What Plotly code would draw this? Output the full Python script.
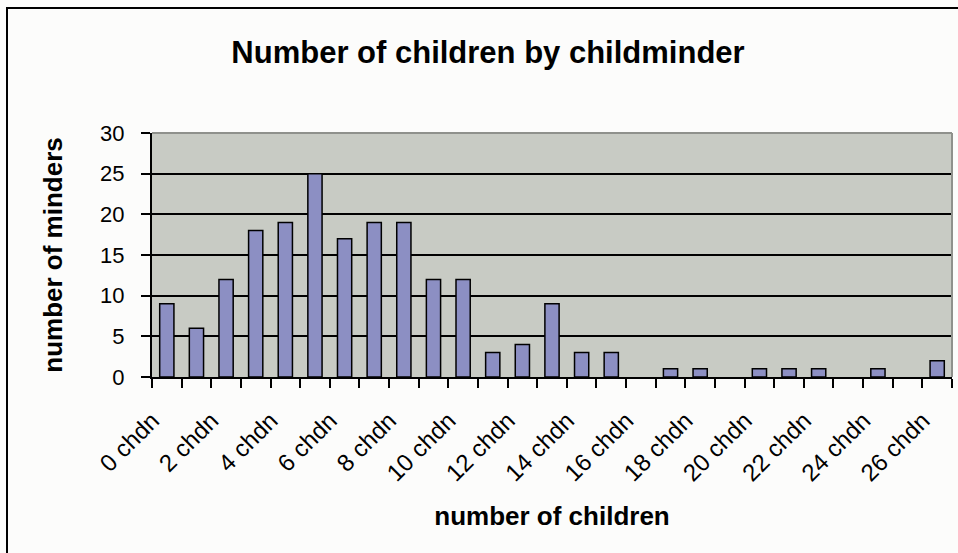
import plotly.graph_objects as go

# Number of children cared for (0..26) and how many childminders have that many
children = list(range(27))
minders = [9, 6, 12, 18, 19, 25, 17, 19, 19, 12, 12, 3, 4, 9, 3, 3, 0, 1, 1, 0, 1, 1, 1, 0, 1, 0, 2]
tick_positions = children[::2]
tick_labels = [f"{n} chdn" for n in tick_positions]
y_ticks = [0, 5, 10, 15, 20, 25, 30]

FONT = "Liberation Sans, Arial, sans-serif"
BAR_COLOR = "#8c8fc3"
PLOT_BG = "#c8cbc4"
PAPER_BG = "#fcfcfb"

# Rotated labels end a little to the left of each category centre
LABEL_SHIFT = -0.49

fig = go.Figure(
    go.Bar(
        x=children,
        y=minders,
        width=0.48,
        marker=dict(
            color=BAR_COLOR,
            line=dict(color="black", width=[1.5 if v > 0 else 0 for v in minders]),
        ),
    )
)

fig.update_layout(
    width=958,
    height=553,
    margin=dict(l=152, r=6, t=133, b=176),
    paper_bgcolor=PAPER_BG,
    plot_bgcolor=PLOT_BG,
    showlegend=False,
    font=dict(family=FONT, color="black"),
    title=dict(
        text="<b>Number of children by childminder</b>",
        font=dict(family=FONT, size=31, color="black"),
        x=488 / 958,
        xanchor="center",
        xref="container",
        y=1 - 52 / 553,
        yanchor="middle",
        yref="container",
    ),
)

fig.update_xaxes(
    range=[-0.5, 26.5],
    tickmode="array",
    tickvals=[p + LABEL_SHIFT for p in tick_positions],
    ticktext=tick_labels,
    tickangle=-45,
    tickfont=dict(family=FONT, size=24, color="black"),
    ticks="",
    ticklabelstandoff=18,
    showgrid=False,
    zeroline=False,
    showline=True,
    linecolor="black",
    linewidth=2,
    minor=dict(
        tickmode="linear",
        tick0=-0.5,
        dtick=1,
        ticks="outside",
        ticklen=9,
        tickwidth=1.5,
        tickcolor="black",
        showgrid=False,
    ),
    title=dict(
        text="<b>number of children</b>",
        font=dict(family=FONT, size=26, color="black"),
        standoff=22,
    ),
)

fig.update_yaxes(
    range=[0, 30],
    tickmode="array",
    tickvals=y_ticks,
    tickfont=dict(family=FONT, size=22, color="black"),
    ticks="outside",
    ticklen=9,
    tickwidth=1.5,
    tickcolor="black",
    ticklabelstandoff=12,
    showgrid=True,
    gridcolor="black",
    gridwidth=1.8,
    zeroline=False,
    showline=True,
    linecolor="black",
    linewidth=2,
    title=dict(
        text="<b>number of minders</b>",
        font=dict(family=FONT, size=26, color="black"),
        standoff=30,
    ),
)

# Light frame along the top and right of the plotting area
fig.add_shape(type="line", xref="paper", yref="paper", x0=0, x1=1, y0=1, y1=1,
              line=dict(color="#8f918c", width=2), layer="above")
fig.add_shape(type="line", xref="paper", yref="paper", x0=1, x1=1, y0=0, y1=1,
              line=dict(color="#8f918c", width=2), layer="above")

# Outer chart border
fig.add_shape(type="rect", xref="paper", yref="paper",
              x0=(7 - 152) / 800, x1=1.1, y0=-0.8, y1=(377 - 8) / 244,
              line=dict(color="black", width=2), fillcolor="rgba(0,0,0,0)", layer="above")

fig.write_html("out.html")
